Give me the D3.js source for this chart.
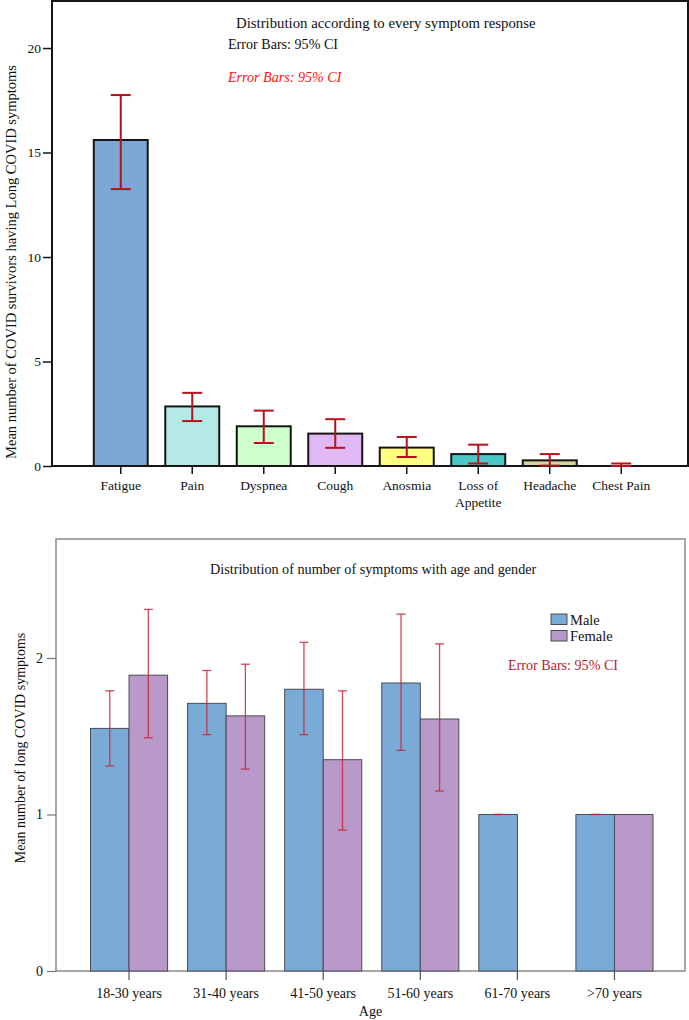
<!DOCTYPE html>
<html>
    <head>
        <script src="https://cdn.jsdelivr.net/npm/d3@7/dist/d3.min.js"></script>
    </head>
    <style>
        body { margin: 0; background: #fff; }
        text { font-family: 'Liberation Serif', 'Times New Roman', serif; }
    </style>
    <body>
        <div id="canvas"></div>
        <script>
            // top chart: every symptom
            var symptoms = ['Fatigue', 'Pain', 'Dyspnea', 'Cough', 'Anosmia', 'Loss of Appetite', 'Headache', 'Chest Pain'];
            var symptomMean = [15.6, 2.85, 1.9, 1.55, 0.88, 0.57, 0.27, 0.03];
            var symptomLow  = [13.25, 2.15, 1.1, 0.87, 0.43, 0.12, 0.02, 0.0];
            var symptomHigh = [17.75, 3.5, 2.65, 2.24, 1.39, 1.02, 0.57, 0.12];
            var symptomTicks = [0, 5, 10, 15, 20];
            var symptomFill = ['#7ba7d5', '#b7e8e8', '#ccffcc', '#e0b8f2', '#ffff80', '#4cc7c8', '#d8d29e', '#f4c0c0'];

            // bottom chart: age and gender
            var ageGroups = ['18-30 years', '31-40 years', '41-50 years', '51-60 years', '61-70 years', '>70 years'];
            var genders = ['Male', 'Female'];
            var maleMean = [1.55, 1.71, 1.80, 1.84, 1.0, 1.0];
            var maleLow  = [1.31, 1.51, 1.51, 1.41, 1.0, 1.0];
            var maleHigh = [1.79, 1.92, 2.10, 2.28, 1.0, 1.0];
            var femaleMean = [1.89, 1.63, 1.35, 1.61, null, 1.0];
            var femaleLow  = [1.49, 1.29, 0.90, 1.15, null, null];
            var femaleHigh = [2.31, 1.96, 1.79, 2.09, null, null];
            var ageTicks = [0, 1, 2];
            var genderFill = ['#7aaad6', '#b899c9'];

            const W = 689, H = 1020;
            const svg = d3.select('#canvas').append('svg')
                .attr('width', W).attr('height', H);

            // ---------- top chart ----------
            var box1 = { left: 52, right: 688, top: 1, bottom: 466 };
            var g1 = svg.append('g');

            var x1 = d3.scaleBand().domain(symptoms)
                .range([85, 657]).paddingInner(0.245).paddingOuter(0.1225);
            var y1 = d3.scaleLinear().domain([0, 22.25]).range([box1.bottom, box1.top]);
            var col1 = d3.scaleOrdinal().domain(symptoms).range(symptomFill);

            var rows1 = symptoms.map((s, i) => ({ name: s, mean: symptomMean[i], lo: symptomLow[i], hi: symptomHigh[i] }));

            // bars thinner than a pixel are not drawn (Chest Pain)
            g1.selectAll('rect.bar')
                .data(rows1.filter(d => y1(0) - y1(d.mean) >= 1))
                .enter()
                .append('rect')
                .attr('class', 'bar')
                .attr('x', d => x1(d.name))
                .attr('y', d => y1(d.mean))
                .attr('width', x1.bandwidth())
                .attr('height', d => y1(0) - y1(d.mean))
                .attr('fill', d => col1(d.name))
                .attr('stroke', '#151515')
                .attr('stroke-width', 2);

            // frame
            g1.append('rect')
                .attr('x', box1.left).attr('y', box1.top)
                .attr('width', box1.right - box1.left).attr('height', box1.bottom - box1.top)
                .attr('fill', 'none').attr('stroke', '#151515').attr('stroke-width', 2);

            // error bars
            var cx1 = d => x1(d.name) + x1.bandwidth() / 2;
            var eb1 = g1.selectAll('g.err').data(rows1).enter().append('g').attr('class', 'err')
                .attr('stroke', '#b5121b').attr('stroke-width', 2);
            eb1.append('line')
                .attr('x1', cx1).attr('x2', cx1)
                .attr('y1', d => y1(d.lo)).attr('y2', d => y1(d.hi));
            eb1.append('line')
                .attr('x1', d => cx1(d) - 10).attr('x2', d => cx1(d) + 10)
                .attr('y1', d => y1(d.hi)).attr('y2', d => y1(d.hi));
            eb1.append('line')
                .attr('x1', d => cx1(d) - 10).attr('x2', d => cx1(d) + 10)
                .attr('y1', d => y1(d.lo)).attr('y2', d => y1(d.lo));

            // axes
            var yAxis1 = g1.append('g')
                .attr('transform', `translate(${box1.left},0)`)
                .call(d3.axisLeft(y1).tickValues(symptomTicks).tickSize(9).tickPadding(2).tickSizeOuter(0));
            yAxis1.select('.domain').remove();
            yAxis1.selectAll('line').attr('stroke', '#151515').attr('stroke-width', 1.5);
            yAxis1.selectAll('text').attr('font-size', '13.5px').attr('fill', '#111');

            var xAxis1 = g1.append('g')
                .attr('transform', `translate(0,${box1.bottom})`)
                .call(d3.axisBottom(x1).tickSize(8).tickPadding(6).tickSizeOuter(0));
            xAxis1.select('.domain').remove();
            xAxis1.selectAll('line').attr('stroke', '#151515').attr('stroke-width', 1.5);
            xAxis1.selectAll('text').attr('font-size', '13.5px').attr('fill', '#111')
                .call(wrap, 70);

            g1.append('text')
                .attr('transform', 'translate(16,262) rotate(-90)')
                .attr('text-anchor', 'middle')
                .attr('font-size', '14.5px')
                .attr('fill', '#111')
                .text('Mean number of COVID survivors having Long COVID symptoms');

            g1.append('text').attr('x', 236).attr('y', 28)
                .attr('font-size', '14.8px').attr('fill', '#111')
                .text('Distribution according to every symptom response');
            g1.append('text').attr('x', 228).attr('y', 49)
                .attr('font-size', '14.1px').attr('fill', '#111')
                .text('Error Bars: 95% CI');
            g1.append('text').attr('x', 228).attr('y', 82)
                .attr('font-size', '14.1px').attr('fill', '#ff1010').attr('font-style', 'italic')
                .text('Error Bars: 95% CI');

            // ---------- bottom chart ----------
            var box2 = { left: 56, right: 685, top: 539, bottom: 971 };
            var g2 = svg.append('g');

            var x2 = d3.scaleBand().domain(ageGroups)
                .range([80.5, 663]).paddingInner(0.206).paddingOuter(0.103);
            var xs = d3.scaleBand().domain(genders).range([0, x2.bandwidth()]);
            var y2 = d3.scaleLinear().domain([0, 2.76]).range([box2.bottom, box2.top]);
            var col2 = d3.scaleOrdinal().domain(genders).range(genderFill);

            var rows2 = [];
            ageGroups.forEach((a, i) => {
                rows2.push({ age: a, sex: 'Male', mean: maleMean[i], lo: maleLow[i], hi: maleHigh[i] });
                rows2.push({ age: a, sex: 'Female', mean: femaleMean[i], lo: femaleLow[i], hi: femaleHigh[i] });
            });
            var bars2 = rows2.filter(d => d.mean != null);
            var errs2 = rows2.filter(d => d.lo != null);

            g2.append('rect')
                .attr('x', box2.left).attr('y', box2.top)
                .attr('width', box2.right - box2.left).attr('height', box2.bottom - box2.top)
                .attr('fill', 'none').attr('stroke', '#8a8a8a').attr('stroke-width', 1.5);

            g2.selectAll('rect.bar')
                .data(bars2)
                .enter()
                .append('rect')
                .attr('class', 'bar')
                .attr('x', d => x2(d.age) + xs(d.sex))
                .attr('y', d => y2(d.mean))
                .attr('width', xs.bandwidth())
                .attr('height', d => y2(0) - y2(d.mean))
                .attr('fill', d => col2(d.sex))
                .attr('stroke', '#4a4a55')
                .attr('stroke-width', 1);

            var cx2 = d => x2(d.age) + xs(d.sex) + xs.bandwidth() / 2;
            var eb2 = g2.selectAll('g.err').data(errs2).enter().append('g').attr('class', 'err')
                .attr('stroke', '#c8283a').attr('stroke-opacity', 0.85).attr('stroke-width', 1.3);
            eb2.append('line')
                .attr('x1', cx2).attr('x2', cx2)
                .attr('y1', d => y2(d.lo)).attr('y2', d => y2(d.hi));
            eb2.append('line')
                .attr('x1', d => cx2(d) - 4.5).attr('x2', d => cx2(d) + 4.5)
                .attr('y1', d => y2(d.hi)).attr('y2', d => y2(d.hi));
            eb2.append('line')
                .attr('x1', d => cx2(d) - 4.5).attr('x2', d => cx2(d) + 4.5)
                .attr('y1', d => y2(d.lo)).attr('y2', d => y2(d.lo));

            var yAxis2 = g2.append('g')
                .attr('transform', `translate(${box2.left},0)`)
                .call(d3.axisLeft(y2).tickValues(ageTicks).tickFormat(d3.format('d')).tickSize(9).tickPadding(4).tickSizeOuter(0));
            yAxis2.select('.domain').remove();
            yAxis2.selectAll('line').attr('stroke', '#777').attr('stroke-width', 1.2);
            yAxis2.selectAll('text').attr('font-size', '14px').attr('fill', '#111');

            var xAxis2 = g2.append('g')
                .attr('transform', `translate(0,${box2.bottom})`)
                .call(d3.axisBottom(x2).tickSize(9).tickPadding(8).tickSizeOuter(0));
            xAxis2.select('.domain').remove();
            xAxis2.selectAll('line').attr('stroke', '#555').attr('stroke-width', 1.2);
            xAxis2.selectAll('text').attr('font-size', '14px').attr('fill', '#111');

            g2.append('text')
                .attr('x', (box2.left + box2.right) / 2).attr('y', 1016)
                .attr('text-anchor', 'middle').attr('font-size', '14px').attr('fill', '#111')
                .text('Age');

            g2.append('text')
                .attr('transform', 'translate(25,748) rotate(-90)')
                .attr('text-anchor', 'middle')
                .attr('font-size', '14px')
                .attr('fill', '#111')
                .text('Mean number of long COVID symptoms');

            g2.append('text').attr('x', 210).attr('y', 574)
                .attr('font-size', '14.2px').attr('fill', '#111')
                .text('Distribution of number of symptoms with age and gender');

            // legend
            var leg = g2.selectAll('g.leg').data(genders).enter().append('g').attr('class', 'leg')
                .attr('transform', (d, i) => `translate(551,${614 + i * 16.5})`);
            leg.append('rect').attr('width', 16).attr('height', 10.5)
                .attr('fill', d => col2(d)).attr('stroke', '#4a4a55').attr('stroke-width', 1);
            leg.append('text').attr('x', 19).attr('y', 10.5)
                .attr('font-size', '14.5px').attr('fill', '#111')
                .text(d => d);

            g2.append('text').attr('x', 508).attr('y', 670)
                .attr('font-size', '14.1px').attr('fill', '#b51e2c')
                .text('Error Bars: 95% CI');

            // wrap long tick labels onto two lines
            function wrap(sel, width) {
                sel.each(function() {
                    var t = d3.select(this);
                    var words = t.text().split(' ');
                    if (this.getComputedTextLength() <= width) return;
                    var y = t.attr('y'), dy = parseFloat(t.attr('dy'));
                    t.text(null);
                    var line = [], lineNo = 0;
                    var ts = t.append('tspan').attr('x', 0).attr('y', y).attr('dy', dy + 'em');
                    words.forEach(w => {
                        line.push(w);
                        ts.text(line.join(' '));
                        if (ts.node().getComputedTextLength() > width && line.length > 1) {
                            line.pop();
                            ts.text(line.join(' '));
                            line = [w];
                            lineNo++;
                            ts = t.append('tspan').attr('x', 0).attr('y', y)
                                .attr('dy', (lineNo * 1.3 + dy) + 'em').text(w);
                        }
                    });
                });
            }
        </script>
    </body>
</html>
